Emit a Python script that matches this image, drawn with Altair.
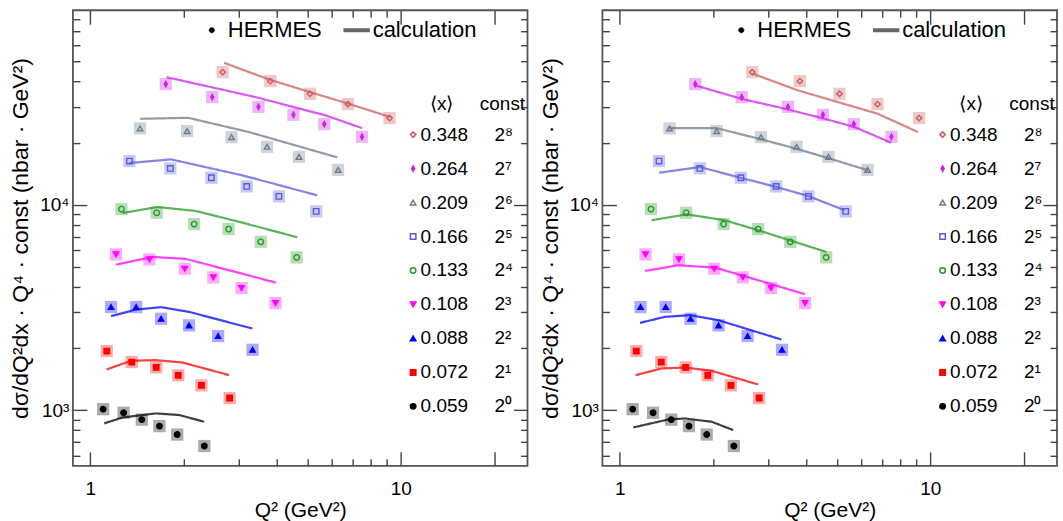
import altair as alt
import pandas as pd

FONT = "Liberation Sans"
NB = "\u00a0"

# <x> bins (legend order, top to bottom) and the constants they are scaled by
x_vals = ["0.348", "0.264", "0.209", "0.166", "0.133", "0.108", "0.088", "0.072", "0.059"]
const_vals = ["2⁸", "2⁷", "2⁶", "2⁵", "2⁴", "2³", "2²", "2¹", "2⁰"]

# marker / line colours, marker fills, marker shapes
colors = ["#cd5c5c", "#cc22ee", "#6b7b8c", "#5a5ae0", "#229922", "#ff00ff", "#0000ff", "#ff0000", "#000000"]
fills = ["transparent", "#cc22ee", "transparent", "transparent", "transparent", "#ff00ff", "#0000ff", "#ff0000", "#000000"]
shapes = ["diamond", "M0,-1L0.55,0L0,1L-0.55,0Z", "triangle-up", "square", "circle",
          "triangle-down", "triangle-up", "square", "circle"]

# HERMES data: Q^2 (GeV^2) and plotted value (already multiplied by const)
hermes_q = [
    [2.67, 3.80, 5.10, 6.76, 9.2],
    [1.75, 2.47, 3.48, 4.51, 5.67, 7.5],
    [1.446, 2.05, 2.85, 3.71, 4.70, 6.28],
    [1.337, 1.81, 2.455, 3.19, 4.05, 5.34],
    [1.26, 1.636, 2.16, 2.79, 3.54, 4.62],
    [1.21, 1.55, 2.015, 2.49, 3.07, 3.95],
    [1.166, 1.405, 1.69, 2.08, 2.58, 3.33],
    [1.13, 1.36, 1.63, 1.92, 2.28, 2.81],
    [1.10, 1.28, 1.465, 1.67, 1.905, 2.33],
]
hermes_v = [
    [44300, 40040, 34730, 30940, 26450],
    [38710, 33460, 30010, 27440, 24720, 21450],
    [23560, 22860, 21360, 19170, 17130, 14800],
    [16330, 15040, 13540, 12290, 10990, 9290],
    [9528, 9141, 8054, 7614, 6603, 5543],
    [5733, 5420, 4879, 4430, 3929, 3319],
    [3176, 3176, 2785, 2586, 2294, 1966],
    [1938, 1713, 1614, 1476, 1319, 1144],
    [1010, 970, 898, 835, 760, 668],
]

# calculation, left panel
calc_left_q = [
    [2.697, 3.763, 5.186, 6.805, 9.267],
    [1.759, 3.411, 5.727, 7.508],
    [1.448, 2.066, 3.245, 6.242],
    [1.335, 1.818, 3.088, 5.382],
    [1.27, 1.646, 2.188, 3.088, 4.642],
    [1.21, 1.586, 2.031, 2.799, 3.955],
    [1.166, 1.403, 1.688, 2.081, 3.326],
    [1.128, 1.352, 1.627, 1.981, 2.799],
    [1.109, 1.27, 1.627, 1.933, 2.326],
]
calc_left_v = [
    [49150, 40800, 35120, 31050, 26750],
    [41870, 33460, 27260, 23640],
    [26240, 26540, 22610, 17025],
    [15973, 16648, 13918, 11123],
    [9120, 9757, 9329, 8185, 6946],
    [5110, 5572, 5449, 4800, 4178],
    [2867, 3087, 3171, 3008, 2495],
    [1576, 1738, 1751, 1705, 1480],
    [861, 920, 963, 946, 877],
]

# calculation, right panel
calc_right_q = [
    [2.689, 3.752, 6.785, 9.123],
    [1.754, 2.466, 3.484, 4.572, 5.709, 7.485],
    [1.433, 2.049, 2.86, 3.707, 4.685, 6.302],
    [1.338, 1.812, 2.466, 3.196, 4.041, 5.301],
    [1.266, 1.641, 2.181, 2.791, 4.627],
    [1.206, 1.543, 2.025, 2.791, 3.944],
    [1.162, 1.398, 1.683, 2.075, 3.316],
    [1.125, 1.364, 1.622, 1.975, 2.791],
    [1.106, 1.434, 1.622, 1.975, 2.318],
]
calc_right_v = [
    [43450, 36080, 27750, 22610],
    [38150, 32840, 29150, 26240, 23910, 20060],
    [23640, 23640, 20830, 18750, 16900, 14720],
    [14330, 15280, 13500, 12210, 11040, 9402],
    [8406, 8989, 8406, 7514, 5892],
    [4763, 5076, 4943, 4292, 3668],
    [2660, 2845, 2900, 2742, 2206],
    [1480, 1594, 1612, 1553, 1332],
    [823, 900, 910, 877, 799],
]

x_ticks = [1, 2, 3, 4, 5, 6, 7, 8, 9, 10, 20]
y_ticks = [600, 700, 800, 900, 1000, 2000, 3000, 4000, 5000, 6000, 7000, 8000, 9000,
           10000, 20000, 30000, 40000, 50000, 60000, 70000, 80000]
x_domain = [0.879, 25.6]
y_domain = [535, 88700]

keys = [f"{x}{NB * 5}{c}" for x, c in zip(x_vals, const_vals)]


def long_table(qs_list, vs_list, src):
    rows = []
    for k, xv, qs, vs in zip(keys, x_vals, qs_list, vs_list):
        for q, v in zip(qs, vs):
            rows.append({"key": k, "xv": xv, "Q2": q, "val": v, "src": src})
    return pd.DataFrame(rows)


pts = long_table(hermes_q, hermes_v, "HERMES")

x_scale = alt.Scale(type="log", domain=x_domain, nice=False)
y_scale = alt.Scale(type="log", domain=y_domain, nice=False)

x_major = "(datum.value == 1 || datum.value == 10 || datum.value == 20)"
y_major = "(datum.value == 1000 || datum.value == 10000)"
x_tick = alt.ExprRef(expr=f"{x_major} ? -14 : -7")
y_tick = alt.ExprRef(expr=f"{y_major} ? -14 : -7")

axis_common = dict(grid=False, domain=False, tickColor="#444", tickWidth=1.4,
                   labelFont=FONT, labelFontSize=19, labelColor="black",
                   titleFont=FONT, titleFontWeight="normal", titleColor="black",
                   labelOverlap=False, labelFlush=False, labelBound=False)

x_axis_bottom = alt.Axis(values=x_ticks, tickSize=x_tick, labelPadding=28,
                         labelExpr="datum.value == 1 ? '1' : datum.value == 10 ? '10' : ''",
                         titlePadding=-6, titleFontSize=21, **axis_common)
y_axis_left = alt.Axis(values=y_ticks, tickSize=y_tick, labelPadding=18,
                       labelExpr="datum.value == 1000 ? '10³' : datum.value == 10000 ? '10⁴' : ''",
                       titlePadding=7, titleFontSize=23, **axis_common)
x_axis_top = alt.Axis(orient="top", values=x_ticks, tickSize=x_tick, labels=False, title=None,
                      grid=False, domain=False, tickColor="#444", tickWidth=1.4)
y_axis_right = alt.Axis(orient="right", values=y_ticks, tickSize=y_tick, labels=False, title=None,
                        grid=False, domain=False, tickColor="#444", tickWidth=1.4)

series_legend = alt.Legend(
    title=f"\u200b{NB * 5}\u27e8x\u27e9{NB * 5}const",
    orient="none", legendX=331, legendY=85, padding=0,
    titleFont=FONT, titleFontSize=19, titleFontWeight="normal", titleColor="black",
    labelFont=FONT, labelFontSize=19, labelColor="black",
    symbolSize=30, symbolStrokeWidth=1.5, symbolOpacity=1,
    rowPadding=14, titlePadding=11, labelOffset=alt.ExprRef(expr="-2"),
)

top_legend = alt.Legend(
    title=None, orient="none", direction="horizontal", legendX=128, legendY=9, padding=0,
    labelFont=FONT, labelFontSize=22, labelColor="black", columnPadding=12, labelOffset=5,
    symbolOpacity=1, symbolFillColor="black",
    symbolType=alt.ExprRef(expr="datum.value == 'HERMES' ? 'circle' : 'stroke'"),
    symbolSize=alt.ExprRef(expr="datum.value == 'HERMES' ? 25 : 700"),
    symbolStrokeWidth=alt.ExprRef(expr="datum.value == 'HERMES' ? 1 : 4"),
    symbolStrokeColor=alt.ExprRef(expr="datum.value == 'HERMES' ? 'black' : '#666666'"),
)

dash_scale = alt.Scale(domain=["HERMES", "calculation"], range=[[1, 0], [1, 0]])
stroke_scale = alt.Scale(domain=keys, range=colors)
fill_scale = alt.Scale(domain=keys, range=fills)
shape_scale = alt.Scale(domain=keys, range=shapes)
box_scale = alt.Scale(domain=x_vals, range=colors)

Y_TITLE = "dσ/dQ²dx · Q⁴ · const (nbar · GeV²)"
X_TITLE = "Q² (GeV²)"


def panel(cq, cv):
    curves = long_table(cq, cv, "calculation")
    xe = alt.X("Q2:Q", scale=x_scale, axis=x_axis_bottom, title=X_TITLE)
    ye = alt.Y("val:Q", scale=y_scale, axis=y_axis_left, title=Y_TITLE)
    boxes = alt.Chart(pts).mark_square(size=150, opacity=0.33).encode(
        x=xe, y=ye, color=alt.Color("xv:N", scale=box_scale, legend=None))
    lines = alt.Chart(curves).mark_line(strokeWidth=2.2, opacity=0.75).encode(
        x=xe, y=ye,
        stroke=alt.Stroke("key:N", scale=stroke_scale, legend=series_legend),
        strokeDash=alt.StrokeDash("src:N", scale=dash_scale, legend=top_legend))
    points = alt.Chart(pts).mark_point(size=30, strokeWidth=1.4, opacity=1).encode(
        x=xe, y=ye,
        shape=alt.Shape("key:N", scale=shape_scale, legend=series_legend),
        stroke=alt.Stroke("key:N", scale=stroke_scale, legend=series_legend),
        fill=alt.Fill("key:N", scale=fill_scale, legend=series_legend),
        strokeDash=alt.StrokeDash("src:N", scale=dash_scale, legend=top_legend))
    inner = alt.layer(boxes, lines, points)
    mirror = alt.Chart(pts).mark_point(opacity=0).encode(
        x=alt.X("Q2:Q", scale=x_scale, axis=x_axis_top),
        y=alt.Y("val:Q", scale=y_scale, axis=y_axis_right))
    return alt.layer(inner, mirror).resolve_axis(x="independent", y="independent").properties(
        width=455, height=456)


chart = alt.hconcat(panel(calc_left_q, calc_left_v), panel(calc_right_q, calc_right_v),
                    spacing=75, bounds="flush").resolve_scale(
    shape="independent", stroke="independent", fill="independent",
    strokeDash="independent", color="independent").resolve_legend(
    shape="independent", stroke="independent", fill="independent",
    strokeDash="independent", color="independent").properties(
    padding={"left": 8, "top": 8, "right": 4, "bottom": 0}).configure_view(
    stroke="#555", strokeWidth=1.8)

chart.save("out.html", embed_options={"renderer": "svg", "actions": False})
